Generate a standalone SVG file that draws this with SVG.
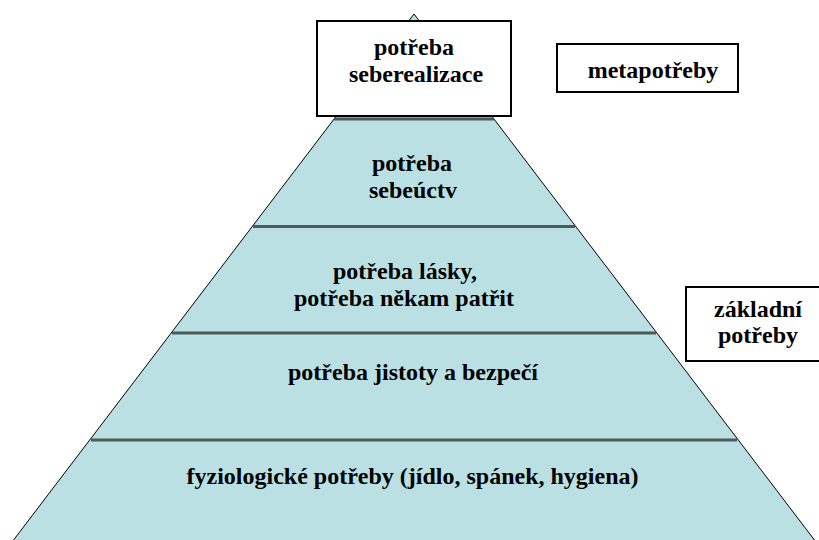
<svg xmlns="http://www.w3.org/2000/svg" width="819" height="540" viewBox="0 0 819 540">
<style>
.t{font-weight:bold;font-size:24px;fill:#000;text-anchor:middle}
.div{stroke:#4d5a5c;stroke-width:3}
.box{fill:#fff;stroke:#000;stroke-width:2}
.tri{fill:#bae0e3;stroke:#000;stroke-width:1}
</style>
<rect width="819" height="540" fill="#fff"/>
<g id="pyramid">
<polygon class="tri" points="414,14 9,546 819,546"/>
</g>
<g id="connectors">
<line class="div" x1="334" y1="119" x2="494" y2="119"/>
<line class="div" x1="253" y1="226.5" x2="575" y2="226.5"/>
<line class="div" x1="172" y1="333" x2="656" y2="333"/>
<line class="div" x1="91" y1="440" x2="737" y2="440"/>
</g>
<g font-family="'Liberation Serif', 'Times New Roman', 'DejaVu Serif', serif">
<g id="seberealizace">
<rect class="box" x="317" y="21" width="194" height="95"/>
<text class="t" x="414" y="55">potřeba</text>
<text class="t" x="416" y="82">seberealizace</text>
</g>
<g id="sebeuctv">
<text class="t" x="412" y="171">potřeba</text>
<text class="t" x="413" y="198">sebeúctv</text>
</g>
<g id="laska">
<text class="t" x="405" y="279">potřeba lásky,</text>
<text class="t" x="404" y="306">potřeba někam patřit</text>
</g>
<g id="jistota">
<text class="t" x="413" y="380">potřeba jistoty a bezpečí</text>
</g>
<g id="fyziologicke">
<text class="t" x="412.5" y="484">fyziologické potřeby (jídlo, spánek, hygiena)</text>
</g>
<g id="metapotreby">
<rect class="box" x="557" y="44" width="181" height="48"/>
<text class="t" x="653" y="78">metapotřeby</text>
</g>
<g id="zakladni">
<rect class="box" x="686" y="287" width="140" height="74"/>
<text class="t" x="758" y="317">základní</text>
<text class="t" x="758" y="343">potřeby</text>
</g>
</g>
</svg>
